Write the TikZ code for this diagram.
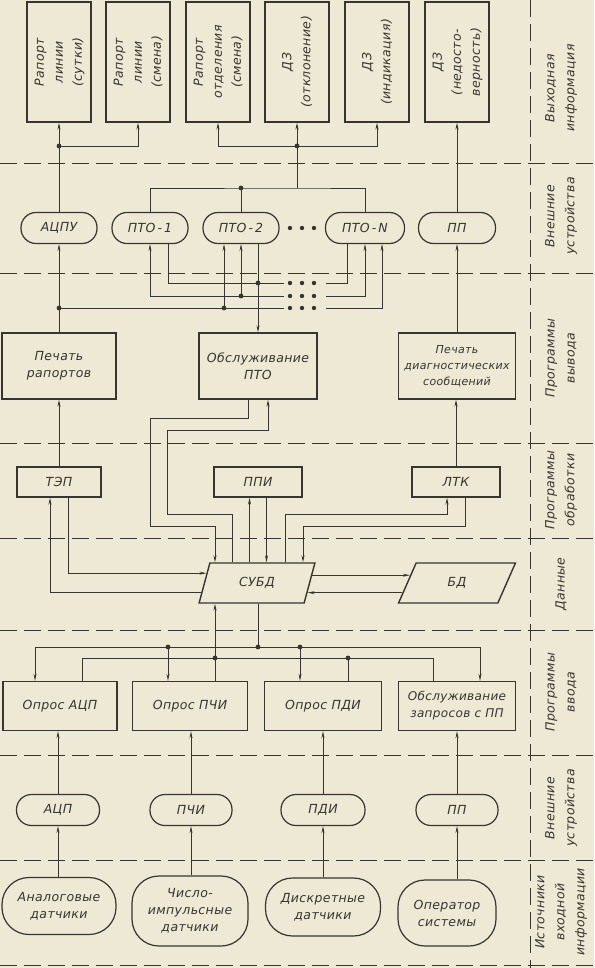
\documentclass[tikz,border=0pt]{standalone}
\usepackage{fontspec}
\usepackage{graphicx}
\setmainfont{DejaVu Sans}[LetterSpace=3]
\usetikzlibrary{arrows.meta,shapes.geometric}
\definecolor{paper}{RGB}{238,233,212}
\definecolor{ink}{RGB}{55,53,48}
\newcommand{\vtext}[1]{\rotatebox{90}{\renewcommand{\arraystretch}{1.12}\begin{tabular}{@{}c@{}}#1\end{tabular}}}
\begin{document}
\begin{tikzpicture}[x=1pt,y=-1pt,
  every node/.style={font=\itshape\fontsize{12.5}{17}\selectfont, text=ink, align=center},
  box/.style={draw=ink, line width=1.4pt, rectangle, inner sep=0pt},
  term/.style={draw=ink, line width=1.2pt, rectangle, rounded corners=15pt, inner sep=0pt, minimum height=31pt},
  src/.style={draw=ink, line width=1.2pt, rectangle, rounded corners=27pt, inner sep=0pt},
  para/.style={draw=ink, line width=1.4pt, trapezium, trapezium left angle=70, trapezium right angle=110, trapezium stretches=true, inner sep=0pt, minimum height=40pt},
  con/.style={draw=ink, line width=0.8pt},
  arr/.style={con, -{Stealth[length=7pt,width=3pt]}},
  sep/.style={draw=ink, line width=0.9pt, dash pattern=on 17pt off 7pt},
  lab/.style={rotate=90, font=\itshape\fontsize{12.5}{20}\selectfont}
]
\useasboundingbox (0,0) rectangle (594,968);
\fill[paper] (0,0) rectangle (594,968);

% separators
\foreach \yy in {163,273,443,538,630,755,860,965} \draw[sep] (0,\yy) -- (594,\yy);
\draw[sep] (530,0) -- (530,968);

% right labels
\node[lab] (L1) at (561,88) {Выходная\\информация};
\node[lab] (L2) at (561,216) {Внешние\\устройства};
\node[lab] (L3) at (561,358) {Программы\\вывода};
\node[lab] (L4) at (561,490) {Программы\\обработки};
\node[lab] (L5) at (561,584) {Данные};
\node[lab] (L6) at (561,692) {Программы\\ввода};
\node[lab] (L7) at (561,808) {Внешние\\устройства};
\node[lab] (L8) at (561,912) {Источники\\входной\\информации};

% output documents
\node[box, minimum width=64pt, minimum height=120pt] (r1) at (59,62) {\vtext{Рапорт\\линии\\(сутки)}};
\node[box, minimum width=64pt, minimum height=120pt] (r2) at (138,62) {\vtext{Рапорт\\линии\\(смена)}};
\node[box, minimum width=64pt, minimum height=120pt] (r3) at (218,62) {\vtext{Рапорт\\отделения\\(смена)}};
\node[box, minimum width=64pt, minimum height=120pt] (r4) at (297,62) {\vtext{ДЗ\\(отклонение)}};
\node[box, minimum width=64pt, minimum height=120pt] (r5) at (377,62) {\vtext{ДЗ\\(индикация)}};
\node[box, minimum width=64pt, minimum height=120pt] (r6) at (457,62) {\vtext{ДЗ\\(недосто-\\верность)}};

% external output devices
\node[term, minimum width=76pt] (acpu) at (59,228) {АЦПУ};
\node[term, minimum width=76pt] (pto1) at (150,228) {ПТО\,-\,1};
\node[term, minimum width=76pt] (pto2) at (241,228) {ПТО\,-\,2};
\node[term, minimum width=79pt] (ptoN) at (365,228) {ПТО\,-\,N};
\node[term, minimum width=77pt] (pp1) at (457,228) {ПП};
\foreach \xx in {290,302,314} \fill[ink] (\xx,228) circle (2.2pt);

% output programs
\node[box, minimum width=114pt, minimum height=66pt] (pr) at (59,366) {Печать\\рапортов};
\node[box, minimum width=118pt, minimum height=66pt] (obs) at (258,366) {Обслуживание\\ПТО};
\node[box, minimum width=117pt, minimum height=66pt, font=\itshape\fontsize{11}{16}\selectfont] (pd) at (457,366) {Печать\\диагностических\\сообщений};

% processing programs
\node[box, minimum width=84pt, minimum height=30pt] (tep) at (59,482) {ТЭП};
\node[box, minimum width=88pt, minimum height=30pt] (ppi) at (258,482) {ППИ};
\node[box, minimum width=88pt, minimum height=30pt] (ltk) at (456,482) {ЛТК};

% data
\node[para, minimum width=116pt] (subd) at (257,583) {СУБД};
\node[para, minimum width=117pt] (bd) at (457,583) {БД};

% input programs
\node[box, minimum width=114pt, minimum height=49pt] (o1) at (60,706) {Опрос АЦП};
\node[box, minimum width=115pt, minimum height=49pt] (o2) at (190,706) {Опрос ПЧИ};
\node[box, minimum width=117pt, minimum height=49pt] (o3) at (323,706) {Опрос ПДИ};
\node[box, minimum width=117pt, minimum height=49pt, font=\itshape\fontsize{12}{17}\selectfont] (o4) at (457,706) {Обслуживание\\запросов с ПП};

% input devices
\node[term, minimum width=83pt] (t1) at (58,810) {АЦП};
\node[term, minimum width=82pt] (t2) at (191,810) {ПЧИ};
\node[term, minimum width=84pt] (t3) at (323,810) {ПДИ};
\node[term, minimum width=82pt] (t4) at (457,810) {ПП};

% sources
\node[src, minimum width=114pt, minimum height=57pt] (s1) at (59,906) {Аналоговые\\датчики};
\node[src, minimum width=116pt, minimum height=70pt] (s2) at (190,911) {Число-\\импульсные\\датчики};
\node[src, minimum width=115pt, minimum height=58pt] (s3) at (323,907) {Дискретные\\датчики};
\node[src, minimum width=98pt, minimum height=66pt] (s4) at (447,913) {Оператор\\системы};

% ---- connectors: top
\coordinate (j1) at (59,146);
\draw[arr] (acpu.north) -- (r1.south);
\draw[arr] (j1) -| (r2.south);
\fill[ink] (j1) circle (2.4pt);
\coordinate (busT) at (297,188);
\draw[con] (pto1.north) |- (busT) -| (ptoN.north);
\draw[con] (pto2.north) -- (pto2.north |- busT);
\fill[ink] (pto2.north |- busT) circle (2.4pt);
\draw[arr] (busT) -- (r4.south);
\coordinate (j2) at (297,146);
\draw[arr] (j2) -| (r3.south);
\draw[arr] (j2) -| (r5.south);
\fill[ink] (j2) circle (2.4pt);
\draw[arr] (pp1.north) -- (r6.south);

% ---- connectors: PTO lower buses
\coordinate (gL) at (284,0);
\coordinate (gR) at (326,0);
\coordinate (rA) at (0,283);
\coordinate (rB) at (0,296);
\coordinate (rC) at (0,308);
\coordinate (p1a) at ([xshift=18pt]pto1.south);
\coordinate (p1b) at (pto1.south);
\coordinate (p2a) at ([xshift=17pt]pto2.south);
\coordinate (p2b) at (pto2.south);
\coordinate (p2c) at ([xshift=-17pt]pto2.south);
\coordinate (pNa) at ([xshift=-18pt]ptoN.south);
\coordinate (pNb) at (ptoN.south);
\coordinate (pNc) at ([xshift=17pt]ptoN.south);
\coordinate (j3) at (acpu.south |- rC);
\draw[arr] (pr.north) -- (acpu.south);
\fill[ink] (j3) circle (2.4pt);
% row A : outputs of PTO
\draw[con] (p1a) |- (gL |- rA);
\draw[arr] (p2a) -- (obs.north);
\fill[ink] (p2a |- rA) circle (2.4pt);
\draw[con] (pNa) |- (gR |- rA);
% row B
\draw[arr] (gL |- rB) -| (p1b);
\draw[arr] (p2b |- rB) -- (p2b);
\fill[ink] (p2b |- rB) circle (2.4pt);
\draw[arr] (gR |- rB) -| (pNb);
% row C
\draw[con] (j3) -- (gL |- rC);
\draw[arr] (p2c |- rC) -- (p2c);
\fill[ink] (p2c |- rC) circle (2.4pt);
\draw[arr] (gR |- rC) -| (pNc);
\foreach \xx in {290,302,314} \foreach \yy in {283,296,308} \fill[ink] (\xx,\yy) circle (2.2pt);

% ---- output programs to processing
\draw[arr] (tep.north) -- (pr.south);
\draw[arr] (ltk.north) -- (ltk.north |- pd.south);
\draw[arr] (pd.north) -- (pp1.south);
\coordinate (oa) at ([xshift=-10pt]obs.south);
\coordinate (ob) at ([xshift=10pt]obs.south);
\coordinate (sA) at (215,526);
\coordinate (sB) at (232,514);
\draw[arr] (oa) |- (150,418) |- (sA) -- (sA |- subd.north);
\draw[arr] (sB |- subd.north) -- (sB) -| (167,430) -| (ob);

% ---- processing to DB
\coordinate (qa) at ([xshift=-8.5pt]ppi.south);
\coordinate (qb) at ([xshift=8.5pt]ppi.south);
\draw[arr] (qa |- subd.north) -- (qa);
\draw[arr] (qb) -- (qb |- subd.north);
\coordinate (la) at ([xshift=9pt]ltk.south);
\coordinate (lb) at ([xshift=-9pt]ltk.south);
\coordinate (sE) at (285,514);
\coordinate (sF) at (303,526);
\draw[arr] (la) |- (sF) -- (sF |- subd.north);
\draw[arr] (sE |- subd.north) -- (sE) -| (lb);
\draw[arr] ([xshift=9pt]tep.south) |- (subd.169);
\draw[arr] (subd.190) -| ([xshift=-9pt]tep.south);
\draw[arr] (subd.8) -- (subd.8 -| bd.171);
\draw[arr] (bd.190) -- (bd.190 -| subd.349);

% ---- DB to input programs
\coordinate (b1) at (258,647);
\coordinate (b2) at (215,658);
\coordinate (o1in) at ([xshift=-25pt]o1.north);
\coordinate (o1out) at ([xshift=22pt]o1.north);
\coordinate (o2in) at ([xshift=-22pt]o2.north);
\coordinate (o2out) at ([xshift=25pt]o2.north);
\coordinate (o3in) at ([xshift=-23pt]o3.north);
\coordinate (o3out) at ([xshift=25pt]o3.north);
\coordinate (o4out) at ([xshift=-24pt]o4.north);
\coordinate (o4in) at ([xshift=23pt]o4.north);
\draw[con] (b1 |- subd.south) -- (b1);
\draw[arr] (b2) -- (b2 |- subd.south);
\draw[arr] (b1) -| (o1in);
\draw[arr] (b1) -| (o4in);
\draw[arr] (o2in |- b1) -- (o2in);
\draw[arr] (o3in |- b1) -- (o3in);
\fill[ink] (b1) circle (2.4pt);
\fill[ink] (o2in |- b1) circle (2.4pt);
\fill[ink] (o3in |- b1) circle (2.4pt);
\draw[con] (o1out) |- (b2);
\draw[con] (o4out) |- (b2);
\draw[con] (o2out) -- (b2);
\draw[con] (o3out) -- (o3out |- b2);
\fill[ink] (b2) circle (2.4pt);
\fill[ink] (o3out |- b2) circle (2.4pt);

% ---- input devices
\draw[arr] (t1.north) -- (t1.north |- o1.south);
\draw[arr] (t2.north) -- (t2.north |- o2.south);
\draw[arr] (t3.north) -- (t3.north |- o3.south);
\draw[arr] (t4.north) -- (t4.north |- o4.south);
\draw[arr] (t1.south |- s1.north) -- (t1.south);
\draw[arr] (t2.south |- s2.north) -- (t2.south);
\draw[arr] (t3.south |- s3.north) -- (t3.south);
\draw[arr] (t4.south |- s4.north) -- (t4.south);
\end{tikzpicture}
\end{document}
